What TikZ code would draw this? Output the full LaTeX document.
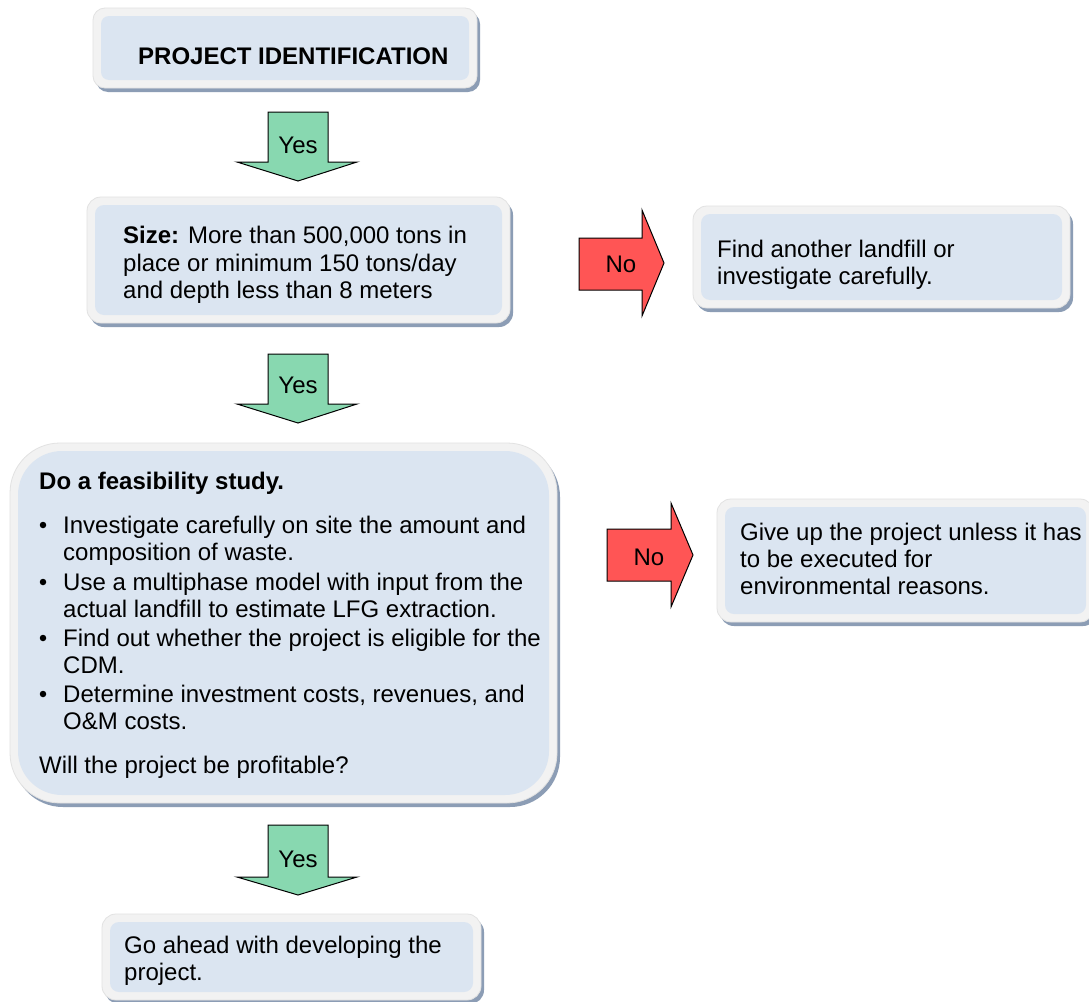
\documentclass[tikz,border=0pt]{standalone}
\usepackage{fontspec}
\setmainfont{Liberation Sans}
\usetikzlibrary{shadows}
\definecolor{boxblue}{HTML}{DBE5F1}
\definecolor{rimgray}{HTML}{F2F2F2}
\definecolor{rimedge}{HTML}{E2E2E2}
\definecolor{shadowc}{HTML}{8C9DB5}
\definecolor{yesgreen}{HTML}{88D8B0}
\definecolor{nored}{HTML}{FF5555}
\newcommand\mypanel[8]{%
  \node[rimbox, rounded corners=#6pt, minimum width={#4-#2}, minimum height={#5-#3}]
    (#1) at ({(#2+#4)/2},{(#3+#5)/2}) {};
  \node[innerbox, rounded corners=#7pt, minimum width={#4-#2-16}, minimum height={#5-#3-16}]
    (#8) at ({(#2+#4)/2},{(#3+#5)/2}) {};
}
\newcommand\myyes[5]{%
  \draw[yesarrow] (268,#2) -- (328,#2) -- (328,#3) -- (357,#3) -- (298,#4) -- (237,#3) -- (268,#3) -- cycle;
  \node[lbl] (#1) at (298,#5) {Yes};
}
\begin{document}
\begin{tikzpicture}[x=1pt,y=-1pt,
  rimbox/.style={draw=rimedge, fill=rimgray, line width=0.8pt, inner sep=0pt,
    drop shadow={shadow xshift=3pt, shadow yshift=-4pt, fill=shadowc, opacity=1}},
  innerbox/.style={fill=boxblue, inner sep=0pt},
  txt/.style={anchor=base west, inner sep=0pt, font=\fontsize{24}{27.5}\selectfont},
  lbl/.style={anchor=base, inner sep=0pt, font=\fontsize{24}{27.5}\selectfont},
  dot/.style={circle, fill=black, inner sep=0pt, minimum size=6.5pt},
  yesarrow/.style={fill=yesgreen, draw=black, line width=1pt, line join=miter},
  noarrow/.style={fill=nored, draw=black, line width=1pt, line join=miter}]
\fill[white] (0,0) rectangle (1089,1001);
\useasboundingbox (0,0) rectangle (1089,1001);

% boxes
\mypanel{b1}{93}{8}{477}{88}{12}{8}{b1i}
\mypanel{b2}{87}{197}{510}{323}{14}{9}{b2i}
\mypanel{b3}{693}{206}{1070}{308}{14}{9}{b3i}
\mypanel{b4}{10}{443}{557}{803}{50}{44}{b4i}
\mypanel{b5}{717}{499}{1094}{622}{14}{9}{b5i}
\mypanel{b6}{102}{914}{481}{1000}{14}{9}{b6i}

% texts
\node[txt] (t1) at (138,64) {\bfseries PROJECT IDENTIFICATION};

\node[txt] (t2a) at (123,243) {\textbf{Size:} More than 500,000 tons in};
\node[txt] (t2b) at (123,271) {place or minimum 150 tons/day};
\node[txt] (t2c) at (123,298) {and depth less than 8 meters};

\node[txt] (t3a) at (717,257) {Find another landfill or};
\node[txt] (t3b) at (717,284) {investigate carefully.};

\node[txt] (t4h) at (39,489) {\bfseries Do a feasibility study.};
\node[dot] (k1) at (43,525) {};
\node[txt] (t4a) at (63,533) {Investigate carefully on site the amount and};
\node[txt] (t4b) at (63,560) {composition of waste.};
\node[dot] (k2) at (43,582) {};
\node[txt] (t4c) at (63,590) {Use a multiphase model with input from the};
\node[txt] (t4d) at (63,617) {actual landfill to estimate LFG extraction.};
\node[dot] (k3) at (43,638) {};
\node[txt] (t4e) at (63,646) {Find out whether the project is eligible for the};
\node[txt] (t4f) at (63,673) {CDM.};
\node[dot] (k4) at (43,694) {};
\node[txt] (t4g) at (63,702) {Determine investment costs, revenues, and};
\node[txt] (t4i) at (63,729) {O\&M costs.};
\node[txt] (t4j) at (39,773) {Will the project be profitable?};

\node[txt] (t5a) at (740,540) {Give up the project unless it has};
\node[txt] (t5b) at (740,567) {to be executed for};
\node[txt] (t5c) at (740,594) {environmental reasons.};

\node[txt] (t6a) at (124,953) {Go ahead with developing the};
\node[txt] (t6b) at (124,980) {project.};

% yes arrows
\myyes{y1}{112}{162}{181}{153}
\myyes{y2}{354}{404}{423}{393}
\myyes{y3}{825}{877}{895}{867}

% no arrows
\draw[noarrow] (579,238) -- (642,238) -- (642,210) -- (664,263) -- (642,316) -- (642,290) -- (579,290) -- cycle;
\node[lbl] (n1) at (621,272) {No};
\draw[noarrow] (607,529) -- (671,529) -- (671,503) -- (693,555) -- (671,607) -- (671,581) -- (607,581) -- cycle;
\node[lbl] (n2) at (649,565) {No};
\end{tikzpicture}
\end{document}
